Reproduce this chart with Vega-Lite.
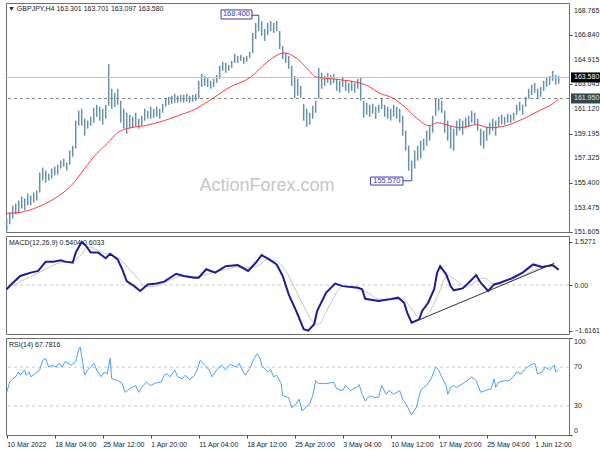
{
"$schema": "https://vega.github.io/schema/vega-lite/v6.json",
"padding": {"left": 2, "top": 2, "right": 0, "bottom": 0},
"background": "white",
"config": {
  "view": {"stroke": "#6e6e6e", "strokeWidth": 1},
  "axis": {"labelFont": "Liberation Sans", "labelFontSize": 7, "labelColor": "#222", "tickColor": "#444", "tickSize": 3, "domain": false, "grid": false, "labelOverlap": false},
  "text": {"font": "Liberation Sans"}
},
"datasets": {
"ohlc": [
{"i":0,"h":152.65,"l":151.73},{"i":2,"h":153.12,"l":152.19},{"i":4,"h":153.66,"l":152.65},{"i":6,"h":153.81,"l":152.96},{"i":8,"h":154.04,"l":153.12},{"i":10,"h":154.35,"l":153.43},{"i":12,"h":154.20,"l":153.27},{"i":14,"h":154.58,"l":153.66},{"i":16,"h":154.43,"l":153.66},{"i":18,"h":154.66,"l":153.89},
{"i":20,"h":154.82,"l":154.04},{"i":22,"h":156.21,"l":154.66},{"i":24,"h":156.59,"l":155.59},{"i":26,"h":156.36,"l":155.44},{"i":28,"h":156.13,"l":155.59},{"i":30,"h":156.52,"l":155.74},{"i":32,"h":156.67,"l":155.98},{"i":34,"h":156.82,"l":156.05},{"i":36,"h":157.13,"l":156.52},{"i":38,"h":157.29,"l":156.67},
{"i":40,"h":156.98,"l":156.36},{"i":42,"h":157.91,"l":156.82},{"i":44,"h":158.29,"l":157.44},{"i":46,"h":160.23,"l":158.06},{"i":48,"h":161.00,"l":159.84},{"i":50,"h":161.15,"l":159.84},{"i":52,"h":160.38,"l":159.07},{"i":54,"h":160.23,"l":159.61},{"i":56,"h":160.53,"l":159.84},{"i":58,"h":161.23,"l":160.07},
{"i":60,"h":161.46,"l":160.53},{"i":62,"h":161.31,"l":160.23},{"i":64,"h":161.15,"l":159.92},{"i":66,"h":161.46,"l":160.38},{"i":68,"h":164.63,"l":161.39},{"i":70,"h":162.70,"l":161.15},{"i":72,"h":162.39,"l":161.31},{"i":74,"h":162.70,"l":161.46},{"i":76,"h":161.77,"l":160.07},{"i":78,"h":161.15,"l":159.61},
{"i":80,"h":160.84,"l":159.22},{"i":82,"h":160.69,"l":159.61},{"i":84,"h":160.53,"l":159.68},{"i":86,"h":160.84,"l":159.76},{"i":88,"h":160.38,"l":159.61},{"i":90,"h":160.61,"l":159.84},{"i":92,"h":161.15,"l":160.23},{"i":94,"h":161.00,"l":160.38},{"i":96,"h":161.31,"l":160.38},{"i":98,"h":161.15,"l":160.46},
{"i":100,"h":161.31,"l":160.53},{"i":102,"h":161.15,"l":160.38},{"i":104,"h":161.54,"l":160.84},{"i":106,"h":162.00,"l":161.31},{"i":108,"h":162.08,"l":161.46},{"i":110,"h":162.16,"l":161.54},{"i":112,"h":162.31,"l":161.62},{"i":114,"h":162.16,"l":161.62},{"i":116,"h":162.23,"l":161.69},{"i":118,"h":162.23,"l":161.62},
{"i":120,"h":162.31,"l":161.69},{"i":122,"h":162.16,"l":161.62},{"i":124,"h":162.23,"l":161.69},{"i":126,"h":162.31,"l":161.77},{"i":128,"h":163.32,"l":161.93},{"i":130,"h":163.86,"l":162.85},{"i":132,"h":163.70,"l":162.93},{"i":134,"h":163.55,"l":162.85},{"i":136,"h":163.32,"l":162.70},{"i":138,"h":163.47,"l":162.85},
{"i":140,"h":163.78,"l":163.16},{"i":142,"h":164.48,"l":163.47},{"i":144,"h":164.79,"l":164.09},{"i":146,"h":164.71,"l":163.94},{"i":148,"h":164.55,"l":164.09},{"i":150,"h":164.86,"l":164.32},{"i":152,"h":165.40,"l":164.71},{"i":154,"h":165.25,"l":164.71},{"i":156,"h":165.33,"l":164.86},{"i":158,"h":165.17,"l":164.63},
{"i":160,"h":165.25,"l":164.79},{"i":162,"h":165.56,"l":165.09},{"i":164,"h":167.03,"l":165.48},{"i":166,"h":167.80,"l":166.56},{"i":168,"h":168.40,"l":167.18},{"i":170,"h":167.95,"l":166.80},{"i":172,"h":167.34,"l":166.41},{"i":174,"h":167.80,"l":166.87},{"i":176,"h":167.95,"l":167.18},{"i":178,"h":167.80,"l":167.03},
{"i":180,"h":167.95,"l":167.18},{"i":182,"h":167.18,"l":165.79},{"i":184,"h":166.02,"l":165.02},{"i":186,"h":165.48,"l":164.71},{"i":188,"h":165.25,"l":164.24},{"i":190,"h":164.48,"l":162.93},{"i":192,"h":163.70,"l":162.00},{"i":194,"h":163.47,"l":162.16},{"i":196,"h":162.93,"l":162.00},{"i":198,"h":161.54,"l":160.23},
{"i":200,"h":161.15,"l":159.76},{"i":202,"h":160.84,"l":159.92},{"i":204,"h":161.39,"l":160.38},{"i":206,"h":161.77,"l":160.84},{"i":208,"h":164.32,"l":161.93},{"i":210,"h":163.94,"l":162.70},{"i":212,"h":163.70,"l":162.93},{"i":214,"h":163.94,"l":163.16},{"i":216,"h":163.78,"l":163.01},{"i":218,"h":163.86,"l":163.16},
{"i":220,"h":163.47,"l":162.54},{"i":222,"h":163.32,"l":162.39},{"i":224,"h":163.63,"l":162.85},{"i":226,"h":163.32,"l":162.54},{"i":228,"h":163.16,"l":162.39},{"i":230,"h":163.32,"l":162.54},{"i":232,"h":163.16,"l":162.39},{"i":234,"h":163.47,"l":162.70},{"i":236,"h":163.55,"l":161.77},{"i":238,"h":161.77,"l":160.46},
{"i":240,"h":161.62,"l":160.69},{"i":242,"h":161.46,"l":160.53},{"i":244,"h":161.54,"l":160.77},{"i":246,"h":161.31,"l":160.38},{"i":248,"h":161.46,"l":160.84},{"i":250,"h":162.00,"l":161.15},{"i":252,"h":161.46,"l":160.53},{"i":254,"h":161.31,"l":160.38},{"i":256,"h":161.15,"l":160.23},{"i":258,"h":161.46,"l":160.53},
{"i":260,"h":161.31,"l":160.38},{"i":262,"h":161.15,"l":160.07},{"i":264,"h":160.61,"l":159.07},{"i":266,"h":159.45,"l":157.91},{"i":268,"h":158.29,"l":156.36},{"i":270,"h":157.13,"l":155.57},{"i":272,"h":157.91,"l":156.52},{"i":274,"h":158.29,"l":157.13},{"i":276,"h":158.68,"l":157.29},{"i":278,"h":158.83,"l":157.91},
{"i":280,"h":159.45,"l":158.29},{"i":282,"h":159.84,"l":158.68},{"i":284,"h":160.61,"l":159.30},{"i":286,"h":161.93,"l":160.61},{"i":288,"h":161.93,"l":161.00},{"i":290,"h":161.77,"l":160.84},{"i":292,"h":161.00,"l":159.30},{"i":294,"h":160.23,"l":158.68},{"i":296,"h":159.84,"l":158.06},{"i":298,"h":159.61,"l":157.91},
{"i":300,"h":160.23,"l":159.07},{"i":302,"h":160.38,"l":159.45},{"i":304,"h":160.23,"l":159.14},{"i":306,"h":160.46,"l":159.61},{"i":308,"h":160.61,"l":159.76},{"i":310,"h":161.00,"l":160.07},{"i":312,"h":160.84,"l":159.92},{"i":314,"h":160.38,"l":159.45},{"i":316,"h":159.61,"l":158.29},{"i":318,"h":159.45,"l":158.06},
{"i":320,"h":159.76,"l":158.68},{"i":322,"h":160.07,"l":159.14},{"i":324,"h":160.38,"l":159.45},{"i":326,"h":160.23,"l":159.07},{"i":328,"h":160.53,"l":159.76},{"i":330,"h":160.69,"l":159.92},{"i":332,"h":160.53,"l":159.92},{"i":334,"h":160.77,"l":160.07},{"i":336,"h":160.69,"l":160.07},{"i":338,"h":160.84,"l":160.23},
{"i":340,"h":161.46,"l":160.69},{"i":342,"h":161.69,"l":161.00},{"i":344,"h":161.46,"l":160.69},{"i":346,"h":162.08,"l":161.31},{"i":348,"h":162.70,"l":161.93},{"i":350,"h":163.01,"l":162.23},{"i":352,"h":163.16,"l":162.39},{"i":354,"h":162.70,"l":162.00},{"i":356,"h":162.85,"l":162.08},{"i":358,"h":163.32,"l":162.54},
{"i":360,"h":163.55,"l":162.85},{"i":362,"h":163.70,"l":163.01},{"i":364,"h":164.09,"l":163.32},{"i":366,"h":163.78,"l":163.01},{"i":368,"h":163.70,"l":163.10}
],
"ma": [
{"i":0,"v":153.05},{"i":9,"v":153.12},{"i":20,"v":153.5},{"i":32,"v":154.2},{"i":43,"v":155.2},{"i":52,"v":156.52},{"i":60,"v":157.68},{"i":67,"v":158.45},{"i":74,"v":159.3},{"i":80,"v":159.61},{"i":92,"v":159.84},{"i":105,"v":160.23},{"i":114,"v":160.61},{"i":125,"v":161.08},{"i":135,"v":161.77},{"i":148,"v":162.78},{"i":163,"v":163.63},{"i":173,"v":164.71},{"i":182,"v":165.4},{"i":185,"v":165.48},{"i":193,"v":165.09},{"i":200,"v":164.32},{"i":206,"v":163.63},{"i":217,"v":163.47},{"i":228,"v":163.32},{"i":235,"v":163.16},{"i":242,"v":162.85},{"i":248,"v":162.39},{"i":257,"v":162.0},{"i":266,"v":161.23},{"i":273,"v":160.46},{"i":282,"v":159.84},{"i":287,"v":160.07},{"i":293,"v":159.92},{"i":302,"v":159.68},{"i":313,"v":159.92},{"i":322,"v":159.68},{"i":330,"v":159.76},{"i":337,"v":160.0},{"i":346,"v":160.46},{"i":355,"v":161.0},{"i":364,"v":161.54},{"i":368,"v":161.93}
],
"macd": [
{"i":0,"m":-0.15},{"i":3,"m":0.02},{"i":9,"m":0.32},{"i":16,"m":0.44},{"i":21,"m":0.5},{"i":26,"m":0.83},{"i":31,"m":0.83},{"i":36,"m":0.88},{"i":39,"m":0.83},{"i":44,"m":0.79},{"i":46,"m":1.15},{"i":50,"m":1.53},{"i":53,"m":1.38},{"i":56,"m":1.15},{"i":61,"m":1.15},{"i":66,"m":0.95},{"i":69,"m":1.11},{"i":74,"m":0.91},{"i":77,"m":0.56},{"i":80,"m":0.14},{"i":85,"m":-0.04},{"i":89,"m":-0.21},{"i":94,"m":0.02},{"i":100,"m":0.05},{"i":105,"m":0.12},{"i":113,"m":0.4},{"i":118,"m":0.32},{"i":125,"m":0.26},{"i":128,"m":0.26},{"i":133,"m":0.56},{"i":139,"m":0.44},{"i":146,"m":0.67},{"i":154,"m":0.71},{"i":161,"m":0.5},{"i":166,"m":0.79},{"i":170,"m":1.06},{"i":175,"m":0.91},{"i":180,"m":0.73},{"i":184,"m":0.32},{"i":188,"m":-0.33},{"i":193,"m":-0.92},{"i":198,"m":-1.57},{"i":201,"m":-1.62},{"i":205,"m":-1.39},{"i":207,"m":-0.92},{"i":213,"m":-0.27},{"i":219,"m":0.05},{"i":224,"m":-0.04},{"i":234,"m":-0.1},{"i":237,"m":-0.15},{"i":239,"m":-0.49},{"i":248,"m":-0.57},{"i":255,"m":-0.51},{"i":261,"m":-0.45},{"i":265,"m":-0.63},{"i":267,"m":-0.98},{"i":270,"m":-1.34},{"i":275,"m":-1.22},{"i":277,"m":-0.92},{"i":281,"m":-0.63},{"i":285,"m":-0.15},{"i":287,"m":0.44},{"i":289,"m":0.67},{"i":293,"m":0.38},{"i":296,"m":-0.04},{"i":298,"m":-0.19},{"i":304,"m":-0.12},{"i":308,"m":0.08},{"i":313,"m":0.35},{"i":316,"m":0.08},{"i":321,"m":-0.21},{"i":325,"m":0.02},{"i":329,"m":0.08},{"i":337,"m":0.24},{"i":344,"m":0.44},{"i":351,"m":0.73},{"i":357,"m":0.64},{"i":364,"m":0.71},{"i":368,"m":0.54}
],
"sig": [
{"i":0,"s":-0.1},{"i":5,"s":0.0},{"i":12,"s":0.2},{"i":20,"s":0.4},{"i":28,"s":0.62},{"i":36,"s":0.8},{"i":44,"s":0.84},{"i":50,"s":1.1},{"i":54,"s":1.35},{"i":58,"s":1.3},{"i":64,"s":1.15},{"i":70,"s":1.05},{"i":76,"s":0.9},{"i":82,"s":0.55},{"i":88,"s":0.2},{"i":93,"s":-0.05},{"i":98,"s":-0.05},{"i":104,"s":0.05},{"i":112,"s":0.25},{"i":118,"s":0.33},{"i":125,"s":0.3},{"i":132,"s":0.35},{"i":138,"s":0.45},{"i":146,"s":0.55},{"i":154,"s":0.65},{"i":162,"s":0.62},{"i":168,"s":0.7},{"i":174,"s":0.9},{"i":180,"s":0.85},{"i":186,"s":0.5},{"i":192,"s":-0.1},{"i":198,"s":-0.75},{"i":204,"s":-1.3},{"i":208,"s":-1.4},{"i":212,"s":-1.05},{"i":218,"s":-0.45},{"i":224,"s":-0.05},{"i":232,"s":-0.05},{"i":240,"s":-0.25},{"i":248,"s":-0.5},{"i":256,"s":-0.52},{"i":264,"s":-0.5},{"i":270,"s":-0.85},{"i":276,"s":-1.2},{"i":282,"s":-0.95},{"i":288,"s":-0.3},{"i":294,"s":0.35},{"i":300,"s":0.15},{"i":306,"s":-0.08},{"i":312,"s":0.1},{"i":318,"s":0.25},{"i":324,"s":0.05},{"i":330,"s":0.02},{"i":338,"s":0.18},{"i":346,"s":0.38},{"i":354,"s":0.58},{"i":360,"s":0.67},{"i":368,"s":0.6}
],
"rsi": [
{"i":0,"r":44},{"i":2,"r":54.5},{"i":4,"r":58},{"i":6,"r":60},{"i":8,"r":65},{"i":9,"r":61.6},{"i":12,"r":67},{"i":13,"r":61.6},{"i":15,"r":65},{"i":16,"r":60},{"i":19,"r":63},{"i":22,"r":67},{"i":24,"r":77},{"i":26,"r":79},{"i":28,"r":70},{"i":30,"r":72},{"i":33,"r":70},{"i":35,"r":74},{"i":37,"r":70},{"i":39,"r":75.6},{"i":43,"r":72},{"i":46,"r":75.6},{"i":48,"r":88},{"i":49,"r":90.7},{"i":50,"r":81},{"i":52,"r":61.6},{"i":54,"r":67},{"i":56,"r":70},{"i":58,"r":74},{"i":60,"r":67},{"i":63,"r":60},{"i":65,"r":65},{"i":67,"r":63},{"i":69,"r":79},{"i":70,"r":58},{"i":74,"r":56},{"i":77,"r":53},{"i":79,"r":44},{"i":83,"r":49},{"i":86,"r":51},{"i":88,"r":44},{"i":90,"r":49},{"i":93,"r":54.5},{"i":96,"r":51},{"i":99,"r":53.5},{"i":103,"r":54.5},{"i":105,"r":61.6},{"i":107,"r":63},{"i":109,"r":60},{"i":112,"r":67},{"i":114,"r":60},{"i":117,"r":58},{"i":119,"r":61.6},{"i":122,"r":57},{"i":125,"r":61},{"i":127,"r":67},{"i":129,"r":77},{"i":132,"r":72},{"i":135,"r":67},{"i":137,"r":60},{"i":140,"r":67},{"i":143,"r":72},{"i":146,"r":67},{"i":149,"r":73},{"i":153,"r":70},{"i":155,"r":74},{"i":157,"r":67},{"i":159,"r":61.6},{"i":162,"r":68.6},{"i":165,"r":79},{"i":167,"r":83.7},{"i":169,"r":79},{"i":170,"r":72},{"i":174,"r":65},{"i":176,"r":67},{"i":178,"r":60},{"i":180,"r":61.6},{"i":183,"r":53},{"i":184,"r":40.5},{"i":188,"r":38.7},{"i":190,"r":28},{"i":193,"r":32},{"i":195,"r":37},{"i":197,"r":24.7},{"i":199,"r":28},{"i":202,"r":32},{"i":204,"r":40.5},{"i":206,"r":56},{"i":208,"r":53},{"i":212,"r":53},{"i":215,"r":53.5},{"i":218,"r":54.5},{"i":220,"r":47.6},{"i":224,"r":45.8},{"i":226,"r":51},{"i":229,"r":45.8},{"i":233,"r":49},{"i":235,"r":52},{"i":237,"r":42},{"i":239,"r":35},{"i":242,"r":40.5},{"i":245,"r":38.7},{"i":248,"r":39},{"i":250,"r":51},{"i":253,"r":42},{"i":255,"r":45.8},{"i":258,"r":42},{"i":262,"r":45.8},{"i":264,"r":37},{"i":267,"r":30},{"i":269,"r":23},{"i":270,"r":21},{"i":273,"r":28},{"i":276,"r":45.8},{"i":278,"r":49},{"i":280,"r":51},{"i":283,"r":58},{"i":286,"r":70},{"i":288,"r":67},{"i":290,"r":60},{"i":293,"r":51},{"i":294,"r":42},{"i":296,"r":49},{"i":298,"r":51},{"i":300,"r":49},{"i":304,"r":53},{"i":307,"r":56},{"i":310,"r":60},{"i":313,"r":56},{"i":316,"r":44},{"i":319,"r":45.8},{"i":323,"r":47.6},{"i":325,"r":58},{"i":326,"r":49},{"i":328,"r":54.5},{"i":332,"r":56},{"i":335,"r":56},{"i":338,"r":60},{"i":340,"r":65},{"i":343,"r":63},{"i":346,"r":68.6},{"i":349,"r":72},{"i":352,"r":74},{"i":354,"r":63},{"i":357,"r":65},{"i":359,"r":70},{"i":362,"r":67},{"i":365,"r":72},{"i":366,"r":65},{"i":368,"r":67.8}
],
"pticks": [
{"v":151.605,"t":"151.605"},{"v":153.475,"t":"153.475"},{"v":155.4,"t":"155.400"},{"v":157.325,"t":"157.325"},{"v":159.195,"t":"159.195"},{"v":161.12,"t":"161.120"},{"v":163.045,"t":"163.045"},{"v":164.915,"t":"164.915"},{"v":166.84,"t":"166.840"},{"v":168.765,"t":"168.765"}
],
"rticks": [
{"v":95.5,"t":"100"},{"v":70,"t":"70"},{"v":30,"t":"30"},{"v":4,"t":"0"}
]
},
"bounds": "flush",
"spacing": 4,
"vconcat": [
{
  "width": 563, "height": 229,
  "layer": [
    {"data": {"name": "ohlc"},
     "mark": {"type": "rule", "strokeWidth": 1.5, "color": "#6890a9"},
     "encoding": {
       "x": {"field": "i", "type": "quantitative", "scale": {"domain": [-0.47, 374.9], "nice": false, "zero": false}, "axis": null},
       "y": {"field": "l", "type": "quantitative", "title": null, "scale": {"domain": [151.6, 169.35], "nice": false, "zero": false},
             "axis": {"orient": "right", "values": [151.605, 153.475, 155.4, 157.325, 159.195, 161.12, 163.045, 164.915, 166.84, 168.765], "labels": false}},
       "y2": {"field": "h"}
     }},
    {"data": {"values": [{"p": 163.58}]},
     "mark": {"type": "rule", "color": "#c4c4c4", "strokeWidth": 1},
     "encoding": {"y": {"field": "p", "type": "quantitative", "title": null}}},
    {"data": {"values": [{"p": 161.95}]},
     "mark": {"type": "rule", "color": "#7a8686", "strokeWidth": 1, "strokeDash": [3, 3]},
     "encoding": {"y": {"field": "p", "type": "quantitative", "title": null}}},
    {"data": {"values": [{"t": "ActionForex.com", "i": 173.5, "v": 155.16}]},
     "mark": {"type": "text", "fontSize": 18, "color": "#c6c6c6", "align": "center", "baseline": "middle"},
     "encoding": {"x": {"field": "i", "type": "quantitative"}, "y": {"field": "v", "type": "quantitative", "title": null}, "text": {"field": "t"}}},
    {"data": {"name": "ma"},
     "mark": {"type": "line", "color": "#ff3b3b", "strokeWidth": 1, "interpolate": "monotone"},
     "encoding": {"x": {"field": "i", "type": "quantitative"}, "y": {"field": "v", "type": "quantitative", "title": null}}},
    {"data": {"values": [{"a": 142.9, "b": 163.5, "lo": 168.11, "hi": 168.81}, {"a": 242.6, "b": 264.2, "lo": 155.24, "hi": 155.86}]},
     "mark": {"type": "rect", "fill": "white", "stroke": "#3a3ab8", "strokeWidth": 1},
     "encoding": {"x": {"field": "a", "type": "quantitative"}, "x2": {"field": "b"}, "y": {"field": "lo", "type": "quantitative", "title": null}, "y2": {"field": "hi"}}},
    {"data": {"values": [{"a": 163.5, "b": 168, "v": 168.4}, {"a": 264.2, "b": 270, "v": 155.57}]},
     "mark": {"type": "rule", "color": "#3a3ab8", "strokeWidth": 1},
     "encoding": {"x": {"field": "a", "type": "quantitative"}, "x2": {"field": "b"}, "y": {"field": "v", "type": "quantitative", "title": null}}},
    {"data": {"values": [{"t": "168.400", "i": 153.2, "v": 168.46}, {"t": "155.570", "i": 253.4, "v": 155.55}]},
     "mark": {"type": "text", "fontSize": 7.5, "color": "#3a3ab8", "align": "center", "baseline": "middle"},
     "encoding": {"x": {"field": "i", "type": "quantitative"}, "y": {"field": "v", "type": "quantitative", "title": null}, "text": {"field": "t"}}},
    {"data": {"values": [{"t": "▼ GBPJPY,H4  163.301 163.701 163.097 163.580"}]},
     "mark": {"type": "text", "fontSize": 7, "color": "#222", "align": "left", "baseline": "middle", "dx": 2, "dy": 6},
     "encoding": {"x": {"datum": -0.47}, "y": {"datum": 169.35}, "text": {"field": "t"}}},
    {"data": {"name": "pticks"},
     "mark": {"type": "text", "fontSize": 7, "color": "#222", "align": "left", "baseline": "middle", "dx": 5},
     "encoding": {"x": {"datum": 374.9}, "y": {"field": "v", "type": "quantitative", "title": null}, "text": {"field": "t"}}},
    {"data": {"values": [{"p": 163.58, "c": "#000000"}, {"p": 161.95, "c": "#34484a"}]},
     "mark": {"type": "rect", "xOffset": 2, "x2Offset": 32, "yOffset": -5, "y2Offset": 5},
     "encoding": {"x": {"datum": 374.9}, "x2": {"datum": 374.9}, "y": {"field": "p", "type": "quantitative", "title": null}, "y2": {"field": "p"}, "color": {"field": "c", "type": "nominal", "scale": null}}},
    {"data": {"values": [{"p": 163.58, "t": "163.580", "c": "#ffffff"}, {"p": 161.95, "t": "161.950", "c": "#e6e6e6"}]},
     "mark": {"type": "text", "fontSize": 7, "align": "left", "baseline": "middle", "dx": 5},
     "encoding": {"x": {"datum": 374.9}, "y": {"field": "p", "type": "quantitative", "title": null}, "text": {"field": "t"}, "color": {"field": "c", "type": "nominal", "scale": null}}}
  ]
},
{
  "width": 563, "height": 98,
  "layer": [
    {"data": {"values": [{"z": 0}]},
     "mark": {"type": "rule", "color": "#c8c8c8", "strokeWidth": 1, "strokeDash": [3, 3]},
     "encoding": {"y": {"field": "z", "type": "quantitative", "title": null, "scale": {"domain": [-1.74, 1.74], "nice": false, "zero": false},
       "axis": {"orient": "right", "values": [-1.6161, 0, 1.5271], "labelExpr": "datum.value == 0 ? '0.00' : format(datum.value, '.4f')", "labelPadding": 2, "labelOverlap": false}}}},
    {"data": {"name": "sig"},
     "mark": {"type": "line", "color": "#c4c4c4", "strokeWidth": 1, "interpolate": "monotone"},
     "encoding": {"x": {"field": "i", "type": "quantitative", "scale": {"domain": [-0.47, 374.9], "nice": false, "zero": false}, "axis": null}, "y": {"field": "s", "type": "quantitative", "title": null}}},
    {"data": {"name": "macd"},
     "mark": {"type": "line", "color": "#1c1c96", "strokeWidth": 2},
     "encoding": {"x": {"field": "i", "type": "quantitative"}, "y": {"field": "m", "type": "quantitative", "title": null}}},
    {"data": {"values": [{"i": 270.4, "m": -1.34}, {"i": 365, "m": 0.77}]},
     "mark": {"type": "line", "color": "#333333", "strokeWidth": 1},
     "encoding": {"x": {"field": "i", "type": "quantitative"}, "y": {"field": "m", "type": "quantitative", "title": null}}},
    {"data": {"values": [{"t": "MACD(12,26,9) 0.5404 0.6033"}]},
     "mark": {"type": "text", "fontSize": 7, "color": "#222", "align": "left", "baseline": "middle", "dx": 3, "dy": 7},
     "encoding": {"x": {"datum": -0.47}, "y": {"datum": 1.74}, "text": {"field": "t"}}}
  ]
},
{
  "width": 563, "height": 97,
  "layer": [
    {"data": {"values": [{"r": 70}, {"r": 30}]},
     "mark": {"type": "rule", "color": "#c8c8c8", "strokeWidth": 1, "strokeDash": [3, 3]},
     "encoding": {"y": {"field": "r", "type": "quantitative", "title": null, "scale": {"domain": [0, 100], "nice": false, "zero": false},
       "axis": {"orient": "right", "values": [0, 30, 70, 100], "labels": false}}}},
    {"data": {"name": "rsi"},
     "mark": {"type": "line", "color": "#4aa0f5", "strokeWidth": 1},
     "encoding": {"x": {"field": "i", "type": "quantitative", "title": null, "scale": {"domain": [-0.47, 374.9], "nice": false, "zero": false},
        "axis": {"values": [0, 32, 64, 96, 128, 160, 192, 224, 256, 288, 320, 352], "labelAlign": "left", "labelPadding": 2, "labelFlush": false, "labelOverlap": false,
          "labelExpr": "['10 Mar 2022','18 Mar 04:00','25 Mar 12:00','1 Apr 20:00','11 Apr 04:00','18 Apr 12:00','25 Apr 20:00','3 May 04:00','10 May 12:00','17 May 20:00','25 May 04:00','1 Jun 12:00'][round(datum.value/32)]"}},
       "y": {"field": "r", "type": "quantitative", "title": null}}},
    {"data": {"name": "rticks"},
     "mark": {"type": "text", "fontSize": 7, "color": "#222", "align": "left", "baseline": "middle", "dx": 5},
     "encoding": {"x": {"datum": 374.9}, "y": {"field": "v", "type": "quantitative", "title": null}, "text": {"field": "t"}}},
    {"data": {"values": [{"t": "RSI(14) 67.7816"}]},
     "mark": {"type": "text", "fontSize": 7, "color": "#222", "align": "left", "baseline": "middle", "dx": 3, "dy": 7},
     "encoding": {"x": {"datum": -0.47}, "y": {"datum": 100}, "text": {"field": "t"}}}
  ]
}
],
"resolve": {"scale": {"x": "independent", "y": "independent"}}
}
